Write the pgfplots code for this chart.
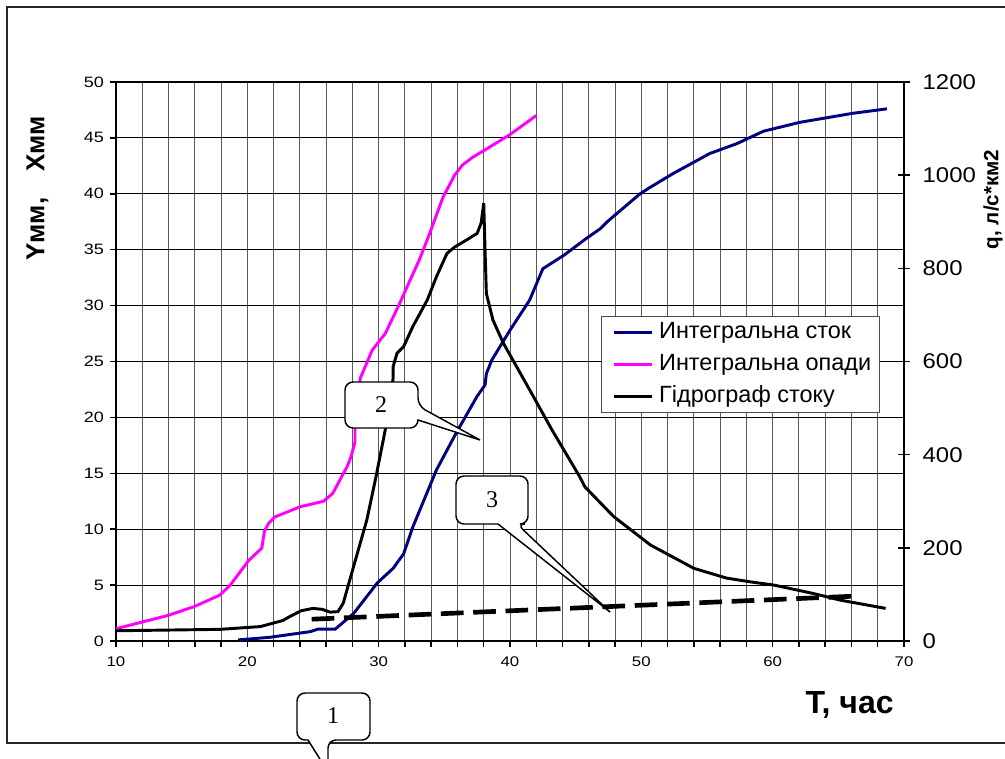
\documentclass[border=0pt]{standalone}
\usepackage{pgfplots}
\pgfplotsset{compat=1.18}
\usepackage{fontspec}
\setmainfont{Liberation Sans}
\newfontfamily\tickfont[FakeStretch=1.2]{Liberation Sans}
\newfontfamily\tickfontR[FakeStretch=1.12]{Liberation Sans}
\newfontfamily\serif{Liberation Serif}
\definecolor{navyb}{RGB}{0,0,128}
\definecolor{magc}{RGB}{255,0,255}

\begin{document}
\begin{tikzpicture}
\useasboundingbox (0,0) rectangle (753.75pt,568.5pt);
\fill[white] (0,0) rectangle (753.75pt,568.5pt);
\begin{scope}[x=0.75pt,y=-0.75pt,shift={(0pt,568.5pt)}]
  \draw[line width=1.4pt, black!85] (1012,7) -- (7,7) -- (7,743) -- (1012,743);
\end{scope}

\begin{axis}[
  at={(87pt,87.75pt)}, anchor=south west,
  scale only axis, width=591pt, height=419.25pt,
  xmin=10, xmax=70, ymin=0, ymax=50,
  axis x line*=bottom, axis y line*=left,
  axis line style={line width=1.6pt, black},
  xtick={10,20,...,70}, minor x tick num=4,
  ytick={0,5,...,50},
  tick align=outside,
  major tick length=4.5pt, minor tick length=4.5pt,
  tick style={black, line width=1.1pt},
  xmajorgrids, xminorgrids, ymajorgrids,
  grid style={line width=0.7pt, black!65},
  every axis y grid/.style={black, line width=0.8pt},
  /pgf/number format/assume math mode=true,
  xticklabel style={font=\tickfont\fontsize{10.5}{12}\selectfont, yshift=-4pt},
  yticklabel style={font=\tickfont\fontsize{11.25}{13}\selectfont, xshift=-1pt},
  xlabel={T, час},
  xlabel style={font=\bfseries\fontsize{24}{28}\selectfont, at={(axis description cs:0.931,-0.115)}, anchor=center},
  ylabel={Yмм,\quad Xмм},
  ylabel style={font=\bfseries\fontsize{19.5}{22}\selectfont, at={(axis description cs:-0.0996,0.810)}, anchor=center},
  clip=false,
]
% Integral runoff (blue)
\addplot[navyb, line width=2.2pt] coordinates {
(19.3,0.1) (21.7,0.33) (24.8,0.84) (25.4,1.07) (26.7,1.07) (28.1,2.47) (29.9,5.2)
(31.1,6.5) (31.9,7.8) (32.6,10.2) (34.4,15.3) (35.9,18.6) (37.5,21.9) (38.1,22.9)
(38.2,23.9) (38.6,25.1) (40.0,27.8) (41.5,30.5) (42.5,33.3) (44.1,34.5) (45.8,36.0)
(46.9,36.9) (47.4,37.5) (48.6,38.7) (49.9,40.0) (50.7,40.6) (52.4,41.8) (55.2,43.6)
(57.3,44.5) (59.3,45.6) (62.1,46.4) (64.1,46.8) (66.1,47.2) (68.7,47.6)
};
% Integral precipitation (magenta)
\addplot[magc, line width=2.2pt] coordinates {
(10,1.1) (12,1.7) (14,2.3) (16,3.1) (17.9,4.1) (18.7,5.0) (20.1,7.2) (21.1,8.3)
(21.3,9.8) (21.6,10.5) (22.1,11.1) (24.0,12.0) (25.8,12.5) (26.5,13.2) (27.6,15.6)
(27.9,16.5) (28.2,17.8) (28.2,19.0) (28.3,21.5) (28.6,23.5) (29.5,26.0) (30.5,27.5)
(31.6,30.2) (32.4,32.3) (33.1,34.1) (33.9,36.5) (34.9,39.7) (35.8,41.7) (36.4,42.6)
(37.2,43.3) (38.2,44.0) (40.0,45.3) (42.0,47.0)
};
% dashed line
\addplot[black, line width=3.5pt, dash pattern=on 17pt off 7.25pt, forget plot] coordinates {
(24.9,1.95) (66.0,4.0)
};
\end{axis}

\begin{axis}[
  at={(87pt,87.75pt)}, anchor=south west,
  scale only axis, width=591pt, height=419.25pt,
  xmin=10, xmax=70, ymin=0, ymax=1200,
  axis x line=none, axis y line*=right,
  axis line style={line width=1.6pt, black},
  ytick={0,200,...,1200},
  tick align=center, major tick length=9pt,
  tick style={black, line width=1.1pt},
  /pgf/number format/assume math mode=true,
  /pgf/number format/1000 sep={},
  yticklabel style={font=\tickfontR\fontsize{16}{18}\selectfont, xshift=6pt},
  ylabel={q, л/с*км2},
  ylabel style={font=\bfseries\fontsize{15.5}{18}\selectfont, at={(axis description cs:1.113,0.79)}, anchor=center},
  legend style={at={(rel axis cs:0.6155,0.5814)}, anchor=north west, draw=black!70, line width=0.8pt,
     fill=white, font=\fontsize{17.6}{20}\selectfont, inner xsep=4pt, inner ysep=1.5pt, row sep=3pt,
     nodes={inner sep=2pt, text height=13pt, text depth=4pt}},
  legend cell align=left,
  legend image code/.code={\path (0pt,0pt) (35pt,0pt); \draw[#1, line width=2.2pt] (4.5pt,0pt) -- (33pt,0pt);},
  clip=false,
]
\addlegendimage{navyb}
\addlegendentry{Интегральна сток}
\addlegendimage{magc}
\addlegendentry{Интегральна опади}
\addplot[black, line width=2.2pt] coordinates {
(10,22) (17.9,25) (21.0,31) (22.7,44) (23.2,52) (24.1,65) (25.0,70) (25.7,68) (26.3,62)
(26.9,63) (27.3,81) (27.8,131) (29.1,260) (29.8,353) (30.5,453) (31.1,564) (31.1,589)
(31.4,618) (31.9,632) (32.6,675) (33.7,732) (34.4,782) (35.2,832) (35.8,846) (36.7,861)
(37.5,875) (37.8,897) (38.0,940) (38.1,839) (38.2,746) (38.7,689) (39.5,639) (40.5,589)
(41.5,539) (43.2,453) (45.3,353) (45.7,331) (47.9,267) (50.7,206) (54.0,156) (56.5,135)
(58.3,127) (60.1,120) (61.6,111) (63.1,102) (65.1,88) (68.6,70)
};
\addlegendentry{Гідрограф стоку}
\end{axis}

\begin{scope}[x=0.75pt,y=-0.75pt,shift={(0pt,568.5pt)}, line width=1.1pt]
  % callout 2
  \draw[fill=white, rounded corners=6pt] (381,382) -- (418,382) -- (418,406) [sharp corners] -- (480,440) -- (418,420) [rounded corners=6pt] -- (418,428) -- (345,428) -- (345,382) -- cycle;
  \node[font=\serif\fontsize{18}{20}\selectfont] at (381,405) {2};
  % callout 3
  \draw[fill=white, rounded corners=6pt] (492,476) -- (528,476) -- (528,524) -- (517,524) [sharp corners] -- (610,612) -- (498,524) [rounded corners=6pt] -- (456,524) -- (456,476) -- cycle;
  \node[font=\serif\fontsize{18}{20}\selectfont] at (492,500) {3};
  % callout 1
  \draw[fill=white, rounded corners=6pt] (333,693) -- (370,693) -- (370,740) -- (328,740) [sharp corners] -- (328,772) -- (308,740) [rounded corners=6pt] -- (297,740) -- (297,693) -- cycle;
  \node[font=\serif\fontsize{18}{20}\selectfont] at (333,716) {1};
\end{scope}
\end{tikzpicture}
\end{document}
